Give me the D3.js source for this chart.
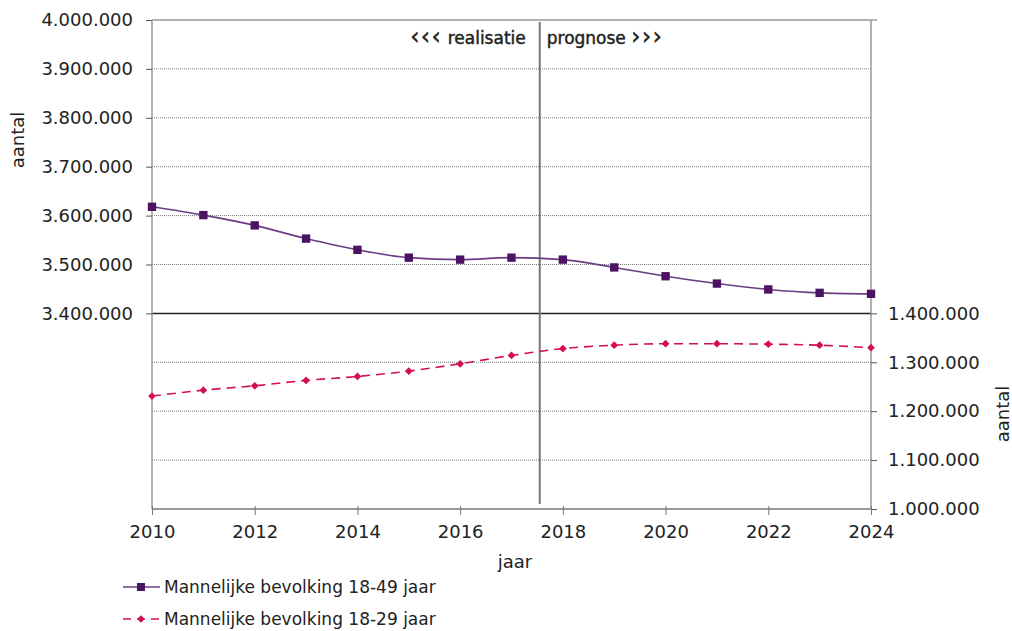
<!DOCTYPE html>
<html>
<head>
<meta charset="utf-8">
<script src="https://cdn.jsdelivr.net/npm/d3@7"></script>
<style>
  html, body { margin: 0; padding: 0; background: #fff; }
  svg { display: block; }
  text { font-family: "DejaVu Sans", Verdana, sans-serif; fill: #222; }
</style>
</head>
<body>
<svg id="chart" width="1012" height="631"></svg>
<script>
// ---- data ----
const years = [2010, 2011, 2012, 2013, 2014, 2015, 2016, 2017, 2018, 2019, 2020, 2021, 2022, 2023, 2024];
const men18to49 = [3618000, 3601000, 3580000, 3553000, 3530000, 3514000, 3510000, 3514000, 3510000, 3494000, 3476000, 3461000, 3449000, 3442000, 3440000];
const men18to29 = [1231000, 1243000, 1252000, 1263000, 1271000, 1282000, 1297000, 1314000, 1328000, 1335000, 1338000, 1338000, 1337000, 1335000, 1330000];
const seriesNames = ["Mannelijke bevolking 18-49 jaar", "Mannelijke bevolking 18-29 jaar"];
const xTicks = [2010, 2012, 2014, 2016, 2018, 2020, 2022, 2024];
const leftTicks = [3400000, 3500000, 3600000, 3700000, 3800000, 3900000, 4000000];
const rightTicks = [1000000, 1100000, 1200000, 1300000, 1400000];
const splitYear = 2017.55;
const arrowsLeft = "‹‹‹", wordLeft = "realisatie";
const wordRight = "prognose", arrowsRight = "›››";

// ---- layout ----
const svg = d3.select("#chart");
const L = 152, R = 871, T = 20, B = 509;
const x = d3.scaleLinear().domain([2010, 2024]).range([L, R]);
const yL = d3.scaleLinear().domain([3000000, 4000000]).range([B, T]);
const yR = d3.scaleLinear().domain([1000000, 2000000]).range([B, T]);
const nl = d3.formatLocale({decimal: ",", thousands: ".", grouping: [3], currency: ["€", ""]});
const fmt = nl.format(",");

const colP = "#4a1462", colPLine = "#6b3c84";
const colR = "#d3104d";

// gridlines (dotted)
const gridVals = leftTicks.filter(v => v !== 3400000 && v !== 4000000);
const gridR = rightTicks.filter(v => v !== 1000000 && v !== 1400000);
const g = svg.append("g");
g.selectAll("line.gl").data(gridVals).join("line")
  .attr("x1", L).attr("x2", R).attr("y1", d => yL(d)).attr("y2", d => yL(d))
  .attr("stroke", "#777").attr("stroke-width", 1).attr("stroke-dasharray", "1,1");
g.selectAll("line.gr").data(gridR).join("line")
  .attr("x1", L).attr("x2", R).attr("y1", d => yR(d)).attr("y2", d => yR(d))
  .attr("stroke", "#777").attr("stroke-width", 1).attr("stroke-dasharray", "1,1");

// top border
svg.append("line").attr("x1", L).attr("x2", R + 6).attr("y1", yL(4000000)).attr("y2", yL(4000000))
  .attr("stroke", "#999").attr("stroke-width", 1.5);
// middle solid
svg.append("line").attr("x1", L).attr("x2", R).attr("y1", yL(3400000)).attr("y2", yL(3400000))
  .attr("stroke", "#222").attr("stroke-width", 1.5);

// left axis
const axL = svg.append("g").attr("transform", `translate(${L},0)`)
  .call(d3.axisLeft(yL).tickValues(leftTicks).tickSize(6).tickPadding(13).tickFormat(fmt));
axL.select(".domain").attr("d", `M0,${T}V${B}`).attr("stroke", "#999").attr("stroke-width", 1.5);
axL.selectAll(".tick line").attr("stroke", "#555");
axL.selectAll(".tick text").style("font-size", "18px").attr("fill", "#222").style("font-family", "DejaVu Sans");

// right axis
const axR = svg.append("g").attr("transform", `translate(${R},0)`)
  .call(d3.axisRight(yR).tickValues(rightTicks).tickSize(6).tickPadding(11).tickFormat(fmt));
axR.select(".domain").attr("d", `M0,${T}V${B}`).attr("stroke", "#999").attr("stroke-width", 1.5);
axR.selectAll(".tick line").attr("stroke", "#555");
axR.selectAll(".tick text").style("font-size", "18px").attr("fill", "#222").style("font-family", "DejaVu Sans");

// x axis
const axX = svg.append("g").attr("transform", `translate(0,${B})`)
  .call(d3.axisBottom(x).tickValues(xTicks).tickSize(6).tickPadding(10).tickFormat(d3.format("d")));
axX.select(".domain").attr("d", `M${L},0H${R}`).attr("stroke", "#777").attr("stroke-width", 1.5);
axX.selectAll(".tick line").attr("stroke", "#777").attr("y1", -3);
axX.selectAll(".tick text").style("font-size", "18px").attr("fill", "#222").style("font-family", "DejaVu Sans");

// divider
svg.append("line").attr("x1", x(splitYear)).attr("x2", x(splitYear)).attr("y1", T + 2).attr("y2", B - 5)
  .attr("stroke", "#777").attr("stroke-width", 2);
const tl = svg.append("text").attr("x", x(splitYear) - 14).attr("y", 44).attr("text-anchor", "end")
  .style("font-size", "17px").attr("stroke", "#222").attr("stroke-width", 0.45);
tl.append("tspan").style("font-size", "23px").style("letter-spacing", "1.5px").text(arrowsLeft);
tl.append("tspan").text(" " + wordLeft);
const tr = svg.append("text").attr("x", x(splitYear) + 7).attr("y", 44).attr("text-anchor", "start")
  .style("font-size", "17px").attr("stroke", "#222").attr("stroke-width", 0.45);
tr.append("tspan").text(wordRight + " ");
tr.append("tspan").style("font-size", "23px").style("letter-spacing", "1.5px").text(arrowsRight);

// series 1
const line1 = d3.line().x((d, i) => x(years[i])).y(d => yL(d)).curve(d3.curveMonotoneX);
svg.append("path").datum(men18to49).attr("d", line1).attr("fill", "none")
  .attr("stroke", colPLine).attr("stroke-width", 1.6);
svg.selectAll("path.m1").data(men18to49).join("path")
  .attr("transform", (d, i) => `translate(${x(years[i])},${yL(d)})`)
  .attr("d", d3.symbol(d3.symbolSquare, 70)).attr("fill", colP);

// series 2
const line2 = d3.line().x((d, i) => x(years[i])).y(d => yR(d)).curve(d3.curveMonotoneX);
svg.append("path").datum(men18to29).attr("d", line2).attr("fill", "none")
  .attr("stroke", colR).attr("stroke-width", 1.6).attr("stroke-dasharray", "9,6");
svg.selectAll("path.m2").data(men18to29).join("path")
  .attr("transform", (d, i) => `translate(${x(years[i])},${yR(d)}) rotate(45)`)
  .attr("d", d3.symbol(d3.symbolSquare, 30)).attr("fill", colR);

// axis titles
svg.append("text").attr("transform", "translate(24,140) rotate(-90)").attr("text-anchor", "middle")
  .style("font-size", "18px").text("aantal");
svg.append("text").attr("transform", "translate(1009,414) rotate(-90)").attr("text-anchor", "middle")
  .style("font-size", "18px").text("aantal");
svg.append("text").attr("x", 515).attr("y", 568).attr("text-anchor", "middle")
  .style("font-size", "18px").text("jaar");

// legend
const leg = svg.append("g");
const legY = [587, 619];
leg.append("line").attr("x1", 123).attr("x2", 160).attr("y1", legY[0]).attr("y2", legY[0])
  .attr("stroke", colPLine).attr("stroke-width", 1.6);
leg.append("path").attr("transform", `translate(141,${legY[0]})`).attr("d", d3.symbol(d3.symbolSquare, 64)).attr("fill", colP);
leg.append("line").attr("x1", 123).attr("x2", 160).attr("y1", legY[1]).attr("y2", legY[1])
  .attr("stroke", colR).attr("stroke-width", 1.6).attr("stroke-dasharray", "8,6");
leg.append("path").attr("transform", `translate(141,${legY[1]}) rotate(45)`).attr("d", d3.symbol(d3.symbolSquare, 30)).attr("fill", colR);
leg.selectAll("text").data(seriesNames).join("text")
  .attr("x", 164).attr("y", (d, i) => legY[i] + 6).style("font-size", "17px").text(d => d);
</script>
</body>
</html>
